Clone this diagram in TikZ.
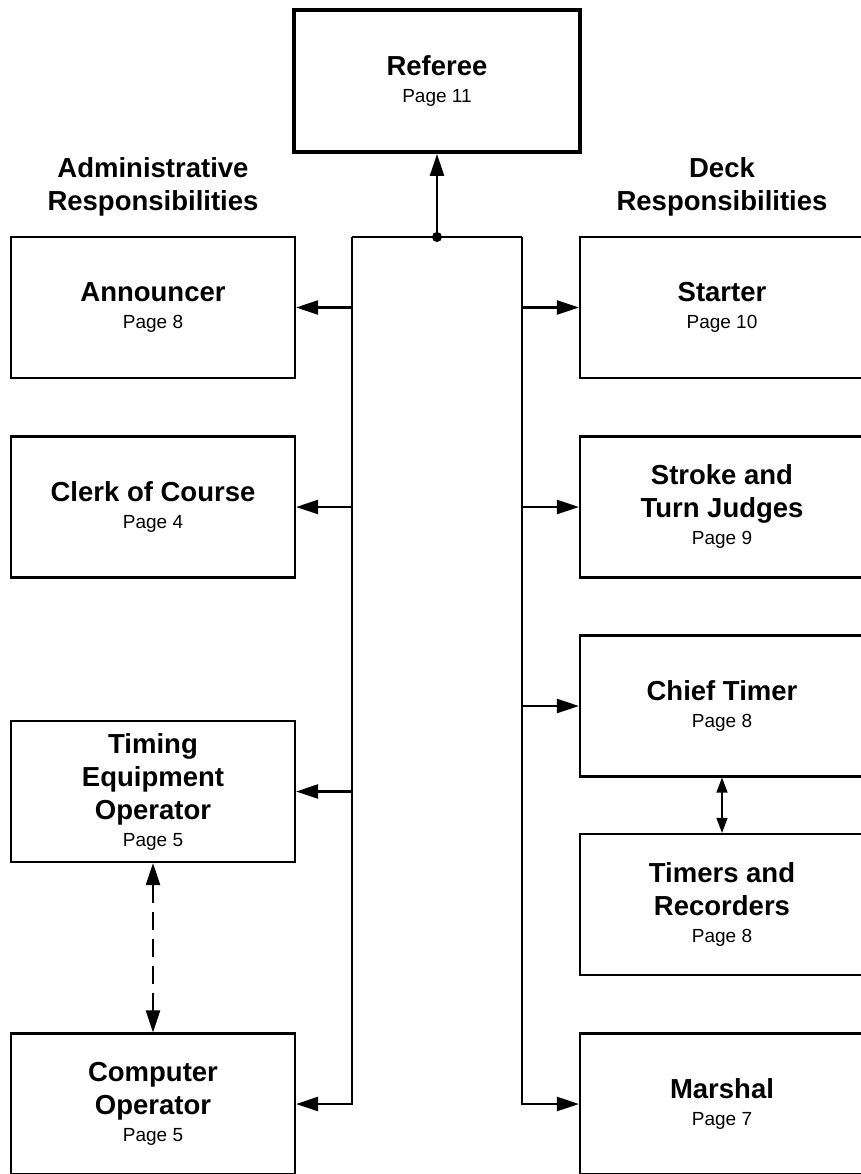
\documentclass[tikz,border=0pt]{standalone}
\usepackage{fontspec}
\setmainfont{Liberation Sans}
\usetikzlibrary{arrows.meta}
\newcommand{\ttl}{\fontsize{27.5}{33}\selectfont\bfseries}
\newcommand{\pg}{\fontsize{19}{25}\selectfont\mdseries}
\tikzset{
  box/.style={draw, line width=2.2pt, minimum width=284pt, minimum height=141pt, align=center, inner sep=0pt, font=\ttl},
  refbox/.style={box, line width=3.8pt, minimum width=286pt, minimum height=142pt},
  hdr/.style={align=center, font=\ttl, inner sep=0pt},
  bus/.style={line width=2.2pt},
  arr/.style={line width=2.2pt, -{Triangle[length=22pt,width=14pt]}},
  darr/.style={line width=2.2pt, dash pattern=on 18pt off 9pt, {Triangle[length=22pt,width=14pt]}-{Triangle[length=22pt,width=14pt]}},
  sarr/.style={line width=1.4pt, {Triangle[length=15pt,width=11pt]}-{Triangle[length=15pt,width=11pt]}},
  dotn/.style={circle, fill, inner sep=0pt, minimum size=10pt}
}
\begin{document}
\begin{tikzpicture}[x=1pt,y=-1pt]
\useasboundingbox (0,0) rectangle (861,1174);
\clip (0,0) rectangle (861,1174);
\node[refbox] (ref) at (437,81) {Referee\\[-6pt]{\pg Page 11}};
\node[hdr] (hadm) at (153,186.5) {Administrative\\Responsibilities};
\node[hdr] (hdeck) at (722,186.5) {Deck\\Responsibilities};
\node[box] (ann) at (153,307.5) {Announcer\\[-6pt]{\pg Page 8}};
\node[box] (clk) at (153,507) {Clerk of Course\\[-6pt]{\pg Page 4}};
\node[box] (tim) at (153,791.5) {Timing\\Equipment\\Operator\\[-6pt]{\pg Page 5}};
\node[box] (comp) at (153,1104) {Computer\\Operator\\[-6pt]{\pg Page 5}};
\node[box] (sta) at (722,307.5) {Starter\\[-6pt]{\pg Page 10}};
\node[box] (str) at (722,507) {Stroke and\\Turn Judges\\[-6pt]{\pg Page 9}};
\node[box] (chf) at (722,706) {Chief Timer\\[-6pt]{\pg Page 8}};
\node[box] (tmr) at (722,904.5) {Timers and\\Recorders\\[-6pt]{\pg Page 8}};
\node[box] (mar) at (722,1104) {Marshal\\[-6pt]{\pg Page 7}};
\coordinate (bl) at (352,237);
\coordinate (br) at (522,237);
\node[dotn] (bd) at (437,237) {};
\draw[bus] (bl) -- (br);
\draw[arr] (bd.center) -- (ref.south);
\draw[arr] (bl) |- (comp.east);
\draw[arr] (br) |- (mar.west);
\draw[arr] (bl |- ann.east) -- (ann.east);
\draw[arr] (bl |- clk.east) -- (clk.east);
\draw[arr] (bl |- tim.east) -- (tim.east);
\draw[arr] (br |- sta.west) -- (sta.west);
\draw[arr] (br |- str.west) -- (str.west);
\draw[arr] (br |- chf.west) -- (chf.west);
\draw[sarr] (chf.south) -- (tmr.north);
\draw[darr] (tim.south) -- (comp.north);
\end{tikzpicture}
\end{document}
